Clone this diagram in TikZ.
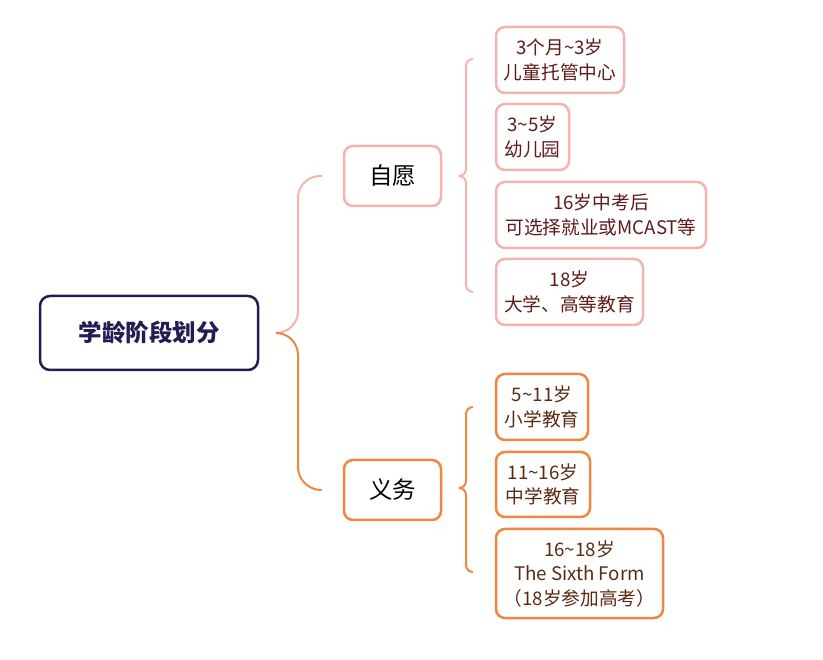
\documentclass[tikz,border=0pt]{standalone}
\usepackage{fontspec}
\setmainfont{Noto Sans CJK SC}
\usetikzlibrary{calc}
\definecolor{navy}{HTML}{231C55}
\definecolor{pinkc}{HTML}{F4B3AE}
\definecolor{orangec}{HTML}{EF8642}
\definecolor{pinktext}{HTML}{5E1A1A}
\definecolor{orangetext}{HTML}{5A2A12}
\tikzset{
  rootbox/.style={draw=navy, line width=2.5pt, rounded corners=10pt, minimum width=218pt, minimum height=74pt, text=navy, font=\fontsize{23.5}{27}\selectfont\bfseries, inner sep=0pt},
  midbox/.style={draw=#1, line width=2.5pt, rounded corners=9pt, minimum width=97pt, minimum height=60pt, text=black, font=\fontsize{23.5}{27}\selectfont, inner sep=0pt},
  leafbox/.style={draw=#1, line width=2.5pt, rounded corners=9pt, align=center, inner sep=0pt, font=\fontsize{18.7}{24.5}\selectfont},
  conn/.style={draw=#1, line width=2pt},
}
\begin{document}
\begin{tikzpicture}[x=1pt,y=-1pt]
\useasboundingbox (0,0) rectangle (823,660);
\node[rootbox] (root) at (149,333) {学龄阶段划分};
\node[midbox=pinkc] (zy) at (392.5,176) {自愿};
\node[midbox=orangec] (yw) at (392.5,490) {义务};

\node[leafbox=pinkc, text=pinktext, minimum width=128pt, minimum height=66pt] (p1) at (560,60) {3个月\textasciitilde3岁\\儿童托管中心};
\node[leafbox=pinkc, text=pinktext, minimum width=73pt, minimum height=66pt] (p2) at (532.5,137) {3\textasciitilde5岁\\幼儿园};
\node[leafbox=pinkc, text=pinktext, minimum width=210pt, minimum height=66pt] (p3) at (601,215) {16岁中考后\\可选择就业或MCAST等};
\node[leafbox=pinkc, text=pinktext, minimum width=147pt, minimum height=66pt] (p4) at (569.5,292) {18岁\\大学、高等教育};

\node[leafbox=orangec, text=orangetext, minimum width=92pt, minimum height=66pt] (o1) at (542,407) {5\textasciitilde11岁\\小学教育};
\node[leafbox=orangec, text=orangetext, minimum width=94pt, minimum height=65pt] (o2) at (543,484.5) {11\textasciitilde16岁\\中学教育};
\node[leafbox=orangec, text=orangetext, minimum width=167pt, minimum height=89pt] (o3) at (579.5,573.5) {16\textasciitilde18岁\\The Sixth Form\\（18岁参加高考）};

\coordinate (m) at ($(root.east)+(17,0)$);
\coordinate (zyin) at ($(zy.west)+(-21,0)$);
\coordinate (ywin) at ($(yw.west)+(-21,0)$);
\draw[conn=pinkc, rounded corners=22pt] (m) -- (298,333) -- (298,176) -- (zyin);
\draw[conn=orangec, rounded corners=22pt] (m) -- (298,333) -- (298,489) -- (ywin);

\coordinate (zt) at ($(zy.east)+(17,0)$);
\coordinate (zya) at (473,59);
\coordinate (zyb) at (473,292);
\draw[conn=pinkc, rounded corners=7pt] (zt) -- (466,176) -- (466,59) -- (zya);
\draw[conn=pinkc, rounded corners=7pt] (zt) -- (466,176) -- (466,292) -- (zyb);

\coordinate (yt) at ($(yw.east)+(17,-2)$);
\coordinate (ywa) at (473,407);
\coordinate (ywb) at (473,572);
\draw[conn=orangec, rounded corners=7pt] (yt) -- (466,488) -- (466,407) -- (ywa);
\draw[conn=orangec, rounded corners=7pt] (yt) -- (466,488) -- (466,572) -- (ywb);
\end{tikzpicture}
\end{document}
